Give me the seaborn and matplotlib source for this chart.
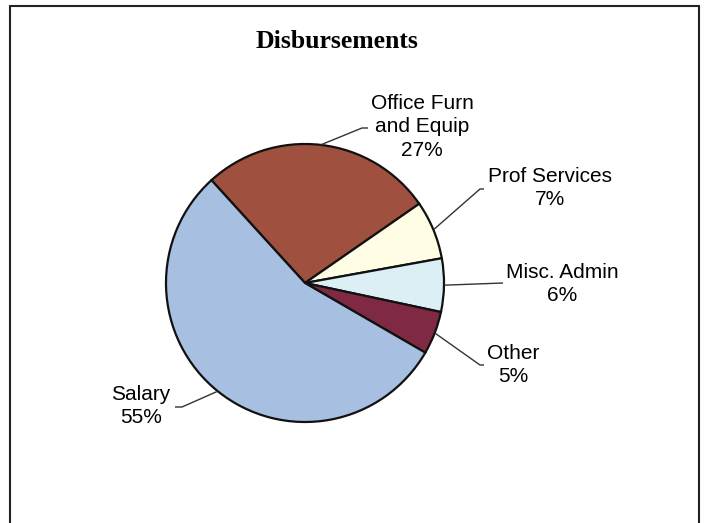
import numpy as np
import matplotlib
matplotlib.use("Agg")
import matplotlib.pyplot as plt
import seaborn as sns
from matplotlib.lines import Line2D

# ---- data ----
categories = ["Office Furn\nand Equip", "Prof Services", "Misc. Admin", "Other", "Salary"]
shares = [27.1, 6.8, 6.2, 5.0, 54.9]
pct_labels = ["27%", "7%", "6%", "5%", "55%"]
colors = ["#A0503F", "#FFFDE3", "#DCEFF5", "#7F2A42", "#A7BFE0"]
title = "Disbursements"

sns.set_theme(style="white")
plt.rcParams["font.family"] = ["Liberation Sans", "DejaVu Sans"]

W, H = 704, 523
fig = plt.figure(figsize=(W / 100, H / 100), dpi=100)
fig.patch.set_facecolor("white")
ax = fig.add_axes([0, 0, 1, 1])

cx, cy, r = 305, H - 283, 139
startangle = 132.3
wedges, _ = ax.pie(shares, colors=colors, startangle=startangle, counterclock=False,
                   center=(cx, cy), radius=r, frame=True,
                   wedgeprops=dict(edgecolor="#111111", linewidth=1.6))
ax.set_xlim(0, W)
ax.set_ylim(0, H)
ax.set_aspect("equal")
ax.axis("off")

# label block centres (pixel coords, y from top) and leader-line elbows
label_pos = [(422, 127), (550, 188), (562, 284), (513, 365), (141, 406)]
elbows = [[(362, 128), (368, 128)],
          [(480, 189), (484, 189)],
          [(503, 283)],
          [(480, 365), (484, 365)],
          [(182, 407), (175, 407)]]

for w, cat, pct, (lx, ly), elb in zip(wedges, categories, pct_labels, label_pos, elbows):
    mid = np.deg2rad((w.theta1 + w.theta2) / 2)
    sx = cx + r * np.cos(mid)
    sy = cy + r * np.sin(mid)
    xs = [sx] + [p[0] for p in elb]
    ys = [sy] + [H - p[1] for p in elb]
    ax.plot(xs, ys, color="#333333", linewidth=1.0, solid_capstyle="butt")
    ax.text(lx, H - ly, f"{cat}\n{pct}", ha="center", va="center",
            fontsize=15, color="black", linespacing=1.3)

ax.text(337, H - 41, title, ha="center", va="center", fontsize=18.5,
        fontweight="bold", family=["Liberation Serif", "DejaVu Serif"], color="black")

# chart border (left, top, right)
bx0, bx1, by0 = 10 / W, 699 / W, 1 - 5.5 / H
for xd, yd in [([bx0, bx0], [0, by0]), ([bx0, bx1], [by0, by0]), ([bx1, bx1], [by0, 0])]:
    fig.add_artist(Line2D(xd, yd, color="#222222", linewidth=1.5, transform=fig.transFigure))

fig.savefig("out.png", dpi=100, facecolor="white")
